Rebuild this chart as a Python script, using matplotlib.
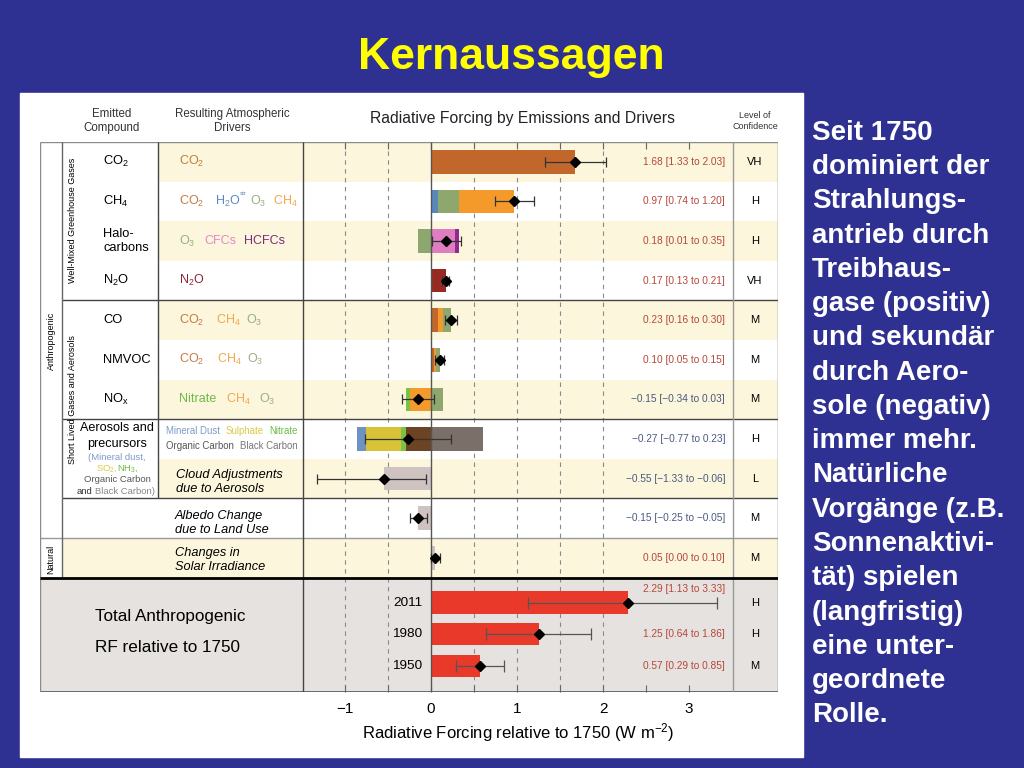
import matplotlib
matplotlib.use("Agg")
import matplotlib.pyplot as plt
from matplotlib.patches import Rectangle

plt.rcParams['font.family'] = ['Liberation Sans', 'DejaVu Sans']
plt.rcParams['mathtext.default'] = 'regular'

# ---- data -------------------------------------------------------------
row_names = ['CO$_2$', 'CH$_4$', 'Halo-\ncarbons', 'N$_2$O', 'CO', 'NMVOC', 'NO$_x$']
row_best = [1.68, 0.97, 0.18, 0.17, 0.23, 0.10, -0.15, -0.27, -0.55, -0.15, 0.05]
row_low = [1.33, 0.74, 0.01, 0.13, 0.16, 0.05, -0.34, -0.77, -1.33, -0.25, 0.00]
row_high = [2.03, 1.20, 0.35, 0.21, 0.30, 0.15, 0.03, 0.23, -0.06, -0.05, 0.10]
row_conf = ['VH', 'H', 'H', 'VH', 'M', 'M', 'M', 'H', 'L', 'M', 'M']

# bar components per row (negative parts stack to the left of zero)
co2_parts = [1.68]
ch4_parts = [0.08, 0.25, 0.64]
halo_parts = [-0.15, 0.28, 0.05]
n2o_parts = [0.17]
co_parts = [0.08, 0.06, 0.09]
nmvoc_parts = [0.03, 0.03, 0.04]
nox_parts = [-0.25, -0.04, 0.14]
aer_parts = [-0.29, -0.06, -0.41, -0.10, 0.61]
cloud_parts = [-0.55]
albedo_parts = [-0.15]
solar_parts = [0.05]

total_years = ['2011', '1980', '1950']
total_best = [2.29, 1.25, 0.57]
total_low = [1.13, 0.64, 0.29]
total_high = [3.33, 1.86, 0.85]
total_conf = ['H', 'H', 'M']

side_text = ['Seit 1750', 'dominiert der', 'Strahlungs-', 'antrieb durch',
             'Treibhaus-', 'gase (positiv)', 'und sekundär', 'durch Aero-',
             'sole (negativ)', 'immer mehr.', 'Natürliche', 'Vorgänge (z.B.',
             'Sonnenaktivi-', 'tät) spielen', '(langfristig)', 'eine unter-',
             'geordnete', 'Rolle.']

# ---- colours ----------------------------------------------------------
C_CO2 = '#C2672B'
C_CH4 = '#F39A2B'
C_O3 = '#8DA76E'
C_H2O = '#5A87BB'
C_CFC = '#E07CC0'
C_HCFC = '#8E2B8C'
C_N2O = '#972A22'
C_NIT = '#7CC242'
C_SUL = '#D7C335'
C_DUST = '#6E93C0'
C_OC = '#6C4424'
C_BC = '#7A6F69'
C_GREY = '#CEC3C0'
C_TOT = '#E8392B'
YELLOW = '#FBF6DC'
SLIDE = '#2F3192'

part_colors = [
    [C_CO2], [C_H2O, C_O3, C_CH4], [C_O3, C_CFC, C_HCFC], [C_N2O],
    [C_CO2, C_CH4, C_O3], [C_CO2, C_CH4, C_O3], [C_CH4, C_NIT, C_O3],
    [C_OC, C_NIT, C_SUL, C_DUST, C_BC], [C_GREY], [C_GREY], [C_GREY],
]
all_parts = [co2_parts, ch4_parts, halo_parts, n2o_parts, co_parts, nmvoc_parts,
             nox_parts, aer_parts, cloud_parts, albedo_parts, solar_parts]


def X(px):
    # pixel column -> forcing units
    return (px - 431) / 86.0


def Y(py):
    # pixel row -> row units
    return (py - 142) / 39.6


fig = plt.figure(figsize=(10.24, 7.68), dpi=100, facecolor=SLIDE)
fig.patches.append(Rectangle((20 / 1024, 1 - 757 / 768), 783 / 1024, 664 / 768,
                             transform=fig.transFigure, color='white', zorder=-5))

ax = fig.add_axes([40 / 1024, 1 - 692 / 768, 738 / 1024, 550 / 768])
ax.patch.set_visible(False)
ax.set_xlim(X(40), X(778))
ax.set_ylim(Y(692), 0)
for s in ax.spines.values():
    s.set_visible(False)

n_rows = len(row_best)
ybot = Y(692)

# backgrounds
for i in range(n_rows):
    if i == 10:
        ax.add_patch(Rectangle((X(62), i), X(778) - X(62), 1, color=YELLOW, lw=0, zorder=0))
    elif i % 2 == 0:
        ax.add_patch(Rectangle((X(158), i), X(778) - X(158), 1, color=YELLOW, lw=0, zorder=0))
ax.add_patch(Rectangle((X(40), n_rows), X(778) - X(40), ybot - n_rows,
                       color='#E6E2DF', lw=0, zorder=0))

# grid
ax.vlines([-1, -0.5, 0.5, 1, 1.5, 2], 0, ybot, colors='#8a8a8a',
          linestyles=(0, (4, 4)), lw=0.8, zorder=1)
ax.vlines(0, 0, ybot, colors='#555555', lw=1, zorder=4)

# table lines
ax.hlines(0, X(40), X(778), colors='#8a8a8a', lw=1)
for yy in [4, 7, 9]:
    ax.hlines(yy, X(62), X(778), colors='#444444', lw=1)
ax.hlines(10, X(40), X(778), colors='#999999', lw=1)
ax.hlines(11, X(40), X(778), colors='black', lw=2, zorder=6)
ax.hlines(ybot, X(40), X(778), colors='#555555', lw=1.2)
ax.vlines(X(40), 0, ybot, colors='#8a8a8a', lw=1)
ax.vlines(X(62), 0, 11, colors='#666666', lw=1)
ax.vlines(X(158), 0, 9, colors='#444444', lw=1)
ax.vlines(X(303), 0, ybot, colors='#444444', lw=1)
ax.vlines(X(733), 0, ybot, colors='#999999', lw=1)
ax.vlines(X(778), 0, ybot, colors='#666666', lw=1)

# stacked bars
bh = 0.6
for i, (parts, cols) in enumerate(zip(all_parts, part_colors)):
    pos, neg = 0.0, 0.0
    for v, c in zip(parts, cols):
        if v >= 0:
            ax.barh(i + 0.5, v, left=pos, height=bh, color=c, lw=0, zorder=3)
            pos += v
        else:
            ax.barh(i + 0.5, v, left=neg, height=bh, color=c, lw=0, zorder=3)
            neg += v

row_y = [i + 0.5 for i in range(n_rows)]
ax.errorbar(row_best, row_y,
            xerr=[[b - l for b, l in zip(row_best, row_low)],
                  [h - b for b, h in zip(row_best, row_high)]],
            fmt='D', color='black', ms=4.8, ecolor='#333333', elinewidth=0.9,
            capsize=3.5, capthick=0.9, zorder=5)

# totals
tot_y = [n_rows + 0.63 + 0.8 * k for k in range(len(total_best))]
ax.barh(tot_y, total_best, height=0.56, color=C_TOT, lw=0, zorder=3)
ax.errorbar(total_best, tot_y,
            xerr=[[b - l for b, l in zip(total_best, total_low)],
                  [h - b for b, h in zip(total_best, total_high)]],
            fmt='D', color='black', ms=4.8, ecolor='#555555', elinewidth=0.9,
            capsize=4, capthick=0.9, zorder=5)


def fmt(b, l, h):
    return f'{b:.2f} [{l:.2f} to {h:.2f}]'.replace('-', '\u2212')


for i in range(n_rows):
    col = '#B5473A' if row_best[i] > 0 else '#4B5A7E'
    ax.text(X(725), row_y[i], fmt(row_best[i], row_low[i], row_high[i]),
            ha='right', va='center', fontsize=7.3, color=col)
    ax.text(X(755), row_y[i], row_conf[i], ha='center', va='center', fontsize=8)
for k in range(len(total_best)):
    ty = tot_y[k] - 0.33 if k == 0 else tot_y[k]
    ax.text(X(725), ty, fmt(total_best[k], total_low[k], total_high[k]),
            ha='right', va='center', fontsize=7.3, color='#B5473A')
    ax.text(X(755), tot_y[k], total_conf[k], ha='center', va='center', fontsize=8)
    ax.text(X(422), tot_y[k], total_years[k], ha='right', va='center', fontsize=9.7)

ax.text(X(95), Y(617), 'Total Anthropogenic', ha='left', va='center', fontsize=12.3)
ax.text(X(95), Y(647), 'RF relative to 1750', ha='left', va='center', fontsize=12.3)

# header
ax.text(X(112), Y(121), 'Emitted\nCompound', ha='center', va='center', fontsize=8.3,
        color='#333333', linespacing=1.3)
ax.text(X(232), Y(121), 'Resulting Atmospheric\nDrivers', ha='center', va='center',
        fontsize=8.3, color='#333333', linespacing=1.3)
ax.text(X(523), Y(119), 'Radiative Forcing by Emissions and Drivers', ha='center',
        va='center', fontsize=11.3, color='#222222')
ax.text(X(755), Y(121), 'Level of\nConfidence', ha='center', va='center', fontsize=6.5,
        color='#333333')

# group labels
ax.text(X(51), Y(341), 'Anthropogenic', rotation=90, ha='center', va='center', fontsize=6.5)
ax.text(X(51), Y(559), 'Natural', rotation=90, ha='center', va='center', fontsize=6.5)
ax.text(X(72), Y(220), 'Well-Mixed Greenhouse Gases', rotation=90, ha='center',
        va='center', fontsize=6.5)
ax.text(X(72), Y(400), 'Short Lived Gases and Aerosols', rotation=90, ha='center',
        va='center', fontsize=6.5)

# emitted compounds
for i, name in enumerate(row_names):
    ax.text(X(103), row_y[i], name, ha='left', va='center', fontsize=9.3,
            linespacing=1.3)
ax.text(X(117), Y(428), 'Aerosols and', ha='center', va='center', fontsize=9.1)
ax.text(X(117), Y(444), 'precursors', ha='center', va='center', fontsize=9.1)
ax.text(X(117), Y(457), '(Mineral dust,', ha='center', va='center', fontsize=6.8,
        color='#7D9BC9')
ax.text(X(96), Y(468), 'SO$_2$,', ha='left', va='center', fontsize=6.8, color='#D9CB45')
ax.text(X(117), Y(468), 'NH$_3$,', ha='left', va='center', fontsize=6.8, color='#6DBA45')
ax.text(X(117), Y(479), 'Organic Carbon', ha='center', va='center', fontsize=6.8,
        color='#555555')
ax.text(X(77), Y(491), 'and', ha='left', va='center', fontsize=6.8, color='#333333')
ax.text(X(95), Y(491), 'Black Carbon)', ha='left', va='center', fontsize=6.8,
        color='#888888')

# drivers
T_CO2, T_O3, T_CH4, T_H2O = '#C47A45', '#9AAF84', '#F0A848', '#5B88C0'
drivers = [
    [('CO$_2$', 179, T_CO2)],
    [('CO$_2$', 179, T_CO2), ('H$_2$O', 215, T_H2O), ('O$_3$', 250, T_O3),
     ('CH$_4$', 273, T_CH4)],
    [('O$_3$', 179, T_O3), ('CFCs', 204, '#E58AC5'), ('HCFCs', 244, '#7A2D7A')],
    [('N$_2$O', 179, '#8B2535')],
    [('CO$_2$', 179, T_CO2), ('CH$_4$', 216, T_CH4), ('O$_3$', 246, T_O3)],
    [('CO$_2$', 179, T_CO2), ('CH$_4$', 217, T_CH4), ('O$_3$', 247, T_O3)],
    [('Nitrate', 179, '#6DBA45'), ('CH$_4$', 226, T_CH4), ('O$_3$', 259, T_O3)],
]
for i, pieces in enumerate(drivers):
    for txt, px, c in pieces:
        ax.text(X(px), row_y[i], txt, ha='left', va='center', fontsize=9, color=c)
ax.text(X(240), row_y[1] - 0.19, 'str', ha='left', va='center', fontsize=4.5, color=T_H2O)
for txt, px, py, c in [('Mineral Dust', 166, 431, '#7D9BC9'), ('Sulphate', 226, 431, '#D9CB45'),
                       ('Nitrate', 269, 431, '#6DBA45'), ('Organic Carbon', 166, 446, '#555555'),
                       ('Black Carbon', 240, 446, '#777777')]:
    ax.text(X(px), Y(py), txt, ha='left', va='center', fontsize=6.9, color=c)
ax.text(X(176), Y(482), 'Cloud Adjustments\ndue to Aerosols', ha='left', va='center',
        fontsize=9.2, style='italic', linespacing=1.2)
ax.text(X(175), Y(523), 'Albedo Change\ndue to Land Use', ha='left', va='center',
        fontsize=9.2, style='italic', linespacing=1.2)
ax.text(X(175), Y(560), 'Changes in\nSolar Irradiance', ha='left', va='center',
        fontsize=9.2, style='italic', linespacing=1.2)

# axis
ax.set_yticks([])
ax.set_xticks([-1, 0, 1, 2, 3])
ax.set_xticks([-0.5, 0.5, 1.5, 2.5], minor=True)
ax.tick_params(which='both', direction='in', top=True, length=5, color='#666666',
               width=0.8, labelsize=11, pad=7)
ax.set_xlabel('Radiative Forcing relative to 1750 (W m$^{-2}$)', fontsize=12,
              labelpad=4, x=(518 - 40) / 738)

# slide text
fig.text(511 / 1024, 1 - 57 / 768, 'Kernaussagen', fontsize=32, fontweight='bold',
         color='#FFFF00', ha='center', va='center')
for k, line in enumerate(side_text):
    fig.text(812 / 1024, 1 - (133 + k * 34.25) / 768, line, fontsize=20,
             fontweight='bold', color='white', ha='left', va='center')

fig.savefig('out.png', dpi=100, facecolor=fig.get_facecolor())
